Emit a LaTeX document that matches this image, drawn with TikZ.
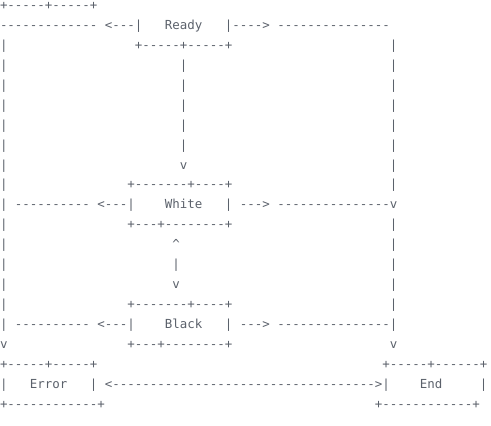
\documentclass[tikz,border=0pt]{standalone}
\usepackage{fontspec}
\setmonofont{DejaVu Sans Mono}
\usetikzlibrary{positioning}
\definecolor{asciigray}{HTML}{5B616B}
\newcommand{\asciifont}{\ttfamily\fontsize{9.34pt}{15pt}\selectfont}

\begin{document}
\begin{tikzpicture}[x=5.625pt,y=-15pt,
  ch/.style={anchor=base west,inner sep=0pt,outer sep=0pt,font=\asciifont,text=asciigray}]
  \useasboundingbox (0,-0.45) rectangle (65.47,20.85);
  % top rows
  \node[ch] (stray) at (0,0) {+-----+-----+};
  \node[ch] (readyleft) at (0,1) {-------------};
  \node[ch] (readyin) at (14,1) {<---|};
  \node[ch] (ready) at (22,1) {Ready};
  \node[ch] (readyout) at (30,1) {|---->};
  \node[ch] (readyright) at (37,1) {---------------};
  \node[ch] (readybot) at (18,2) {+-----+-----+};
  \foreach \r in {3,...,7}
    \node[ch] (down\r) at (24,\r) {|};
  \node[ch] (downtip) at (24,8) {v};
  % white
  \node[ch] (whitetop) at (17,9) {+-------+----+};
  \node[ch] (whiteleft) at (2,10) {----------};
  \node[ch] (whitein) at (13,10) {<---|};
  \node[ch] (white) at (22,10) {White};
  \node[ch] (whitebar) at (30,10) {|};
  \node[ch] (whiteout) at (32,10) {--->};
  \node[ch] (whiteright) at (37,10) {---------------};
  \node[ch] (whitetip) at (52,10) {v};
  \node[ch] (whitebot) at (17,11) {+---+--------+};
  \node[ch] (uptip) at (23,12) {\textasciicircum};
  \node[ch] (mid) at (23,13) {|};
  \node[ch] (midtip) at (23,14) {v};
  % black
  \node[ch] (blacktop) at (17,15) {+-------+----+};
  \node[ch] (blackleft) at (2,16) {----------};
  \node[ch] (blackin) at (13,16) {<---|};
  \node[ch] (black) at (22,16) {Black};
  \node[ch] (blackbar) at (30,16) {|};
  \node[ch] (blackout) at (32,16) {--->};
  \node[ch] (blackright) at (37,16) {---------------|};
  \node[ch] (blackbot) at (17,17) {+---+--------+};
  % outer rails
  \foreach \r in {2,...,16}
    \node[ch] (lrail\r) at (0,\r) {|};
  \foreach \r in {2,...,9,11,12,13,14,15}
    \node[ch] (rrail\r) at (52,\r) {|};
  \node[ch] (ltip) at (0,17) {v};
  \node[ch] (rtip) at (52,17) {v};
  % error and end
  \node[ch] (errortop) at (0,18) {+-----+-----+};
  \node[ch] (errorl) at (0,19) {|};
  \node[ch] (error) at (4,19) {Error};
  \node[ch] (errorr) at (12,19) {|};
  \node[ch] (link) at (14,19) {<----------------------------------->|};
  \node[ch] (errorbot) at (0,20) {+------------+};
  \node[ch] (endtop) at (51,18) {+-----+------+};
  \node[ch] (end) at (56,19) {End};
  \node[ch] (endr) at (64,19) {|};
  \node[ch] (endbot) at (50,20) {+------------+};
\end{tikzpicture}
\end{document}
